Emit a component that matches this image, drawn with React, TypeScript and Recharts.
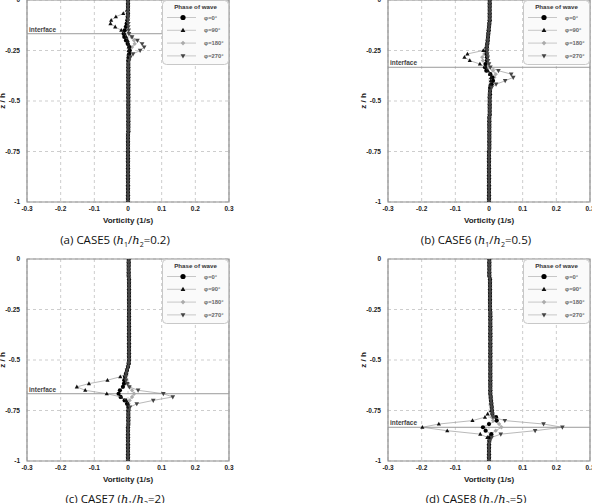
import React from "react";
import {
  ScatterChart,
  Scatter,
  XAxis,
  YAxis,
  CartesianGrid,
  ReferenceLine,
  ReferenceArea,
  Legend,
} from "recharts";

const FONT = "'Liberation Sans', Arial, sans-serif";

// z / h levels shared by every profile (0 = surface, -1 = bottom)
const LEVELS = [
  0, -0.017, -0.033, -0.05, -0.067, -0.083, -0.1, -0.117, -0.133, -0.15,
  -0.167, -0.183, -0.2, -0.217, -0.233, -0.25, -0.267, -0.283, -0.3, -0.317,
  -0.333, -0.35, -0.367, -0.383, -0.4, -0.417, -0.433, -0.45, -0.467, -0.483,
  -0.5, -0.517, -0.533, -0.55, -0.567, -0.583, -0.6, -0.617, -0.633, -0.65,
  -0.667, -0.683, -0.7, -0.717, -0.733, -0.75, -0.767, -0.783, -0.8, -0.817,
  -0.833, -0.85, -0.867, -0.883, -0.9, -0.917, -0.933, -0.95, -0.967, -0.983,
  -1,
];

const X_TICKS = [-0.3, -0.2, -0.1, 0, 0.1, 0.2, 0.3];
const Y_TICKS = [0, -0.25, -0.5, -0.75, -1];
const PHASES = ["φ=0°", "φ=90°", "φ=180°", "φ=270°"];

const CASE_TAGS = ["(a)", "(b)", "(c)", "(d)"];
const CASE_NAMES = ["CASE5", "CASE6", "CASE7", "CASE8"];
const RATIOS = ["0.2", "0.5", "2", "5"];
const INTERFACES = [-0.167, -0.333, -0.667, -0.833];

// vorticity (1/s), one value per level
const CASE5_P0 = [
  0, 0, 0, 0, 0, -0.001, -0.002, -0.004, -0.006, -0.01,
  -0.013, -0.011, -0.006, -0.001, 0.004, 0.005, 0.004, 0.002, 0.001, 0.001,
  0.001, 0.001, 0.001, 0.001, 0.001, 0.001, 0.001, 0.001, 0.001, 0.001,
  0.001, 0.001, 0.001, 0.001, 0.001, 0.001, 0.001, 0.001, 0.001, 0.001,
  0, 0, 0, 0, 0, 0, 0, 0, 0, 0,
  0, 0, 0, 0, 0, 0, 0, 0, 0, 0,
  0,
];
const CASE5_P90 = [
  0, 0, 0, -0.003, -0.014, -0.036, -0.05, -0.052, -0.038, -0.02,
  -0.01, -0.005, -0.001, 0.001, 0.002, 0.002, 0.001, 0.001, 0.001, 0.001,
  0.001, 0.001, 0.001, 0.001, 0.001, 0.001, 0.001, 0.001, 0.001, 0.001,
  0.001, 0.001, 0.001, 0.001, 0.001, 0.001, 0.001, 0.001, 0.001, 0.001,
  0, 0, 0, 0, 0, 0, 0, 0, 0, 0,
  0, 0, 0, 0, 0, 0, 0, 0, 0, 0,
  0,
];
const CASE5_P180 = [
  0, 0, 0, 0, 0, 0, -0.001, -0.004, -0.008, -0.006,
  0.003, 0.01, 0.018, 0.02, 0.012, 0.006, 0.003, 0.002, 0.001, 0.001,
  0.001, 0.001, 0.001, 0.001, 0.001, 0.001, 0.001, 0.001, 0.001, 0.001,
  0.001, 0.001, 0.001, 0.001, 0.001, 0.001, 0.001, 0.001, 0.001, 0.001,
  0, 0, 0, 0, 0, 0, 0, 0, 0, 0,
  0, 0, 0, 0, 0, 0, 0, 0, 0, 0,
  0,
];
const CASE5_P270 = [
  0, 0, 0, 0, 0, 0, 0, 0.001, 0.001, 0.002,
  0.003, 0.012, 0.028, 0.042, 0.048, 0.036, 0.015, 0.007, 0.003, 0.001,
  0.001, 0.001, 0.001, 0.001, 0.001, 0.001, 0.001, 0.001, 0.001, 0.001,
  0.001, 0.001, 0.001, 0.001, 0.001, 0.001, 0.001, 0.001, 0.001, 0.001,
  0, 0, 0, 0, 0, 0, 0, 0, 0, 0,
  0, 0, 0, 0, 0, 0, 0, 0, 0, 0,
  0,
];

const CASE6_P0 = [
  0.002, 0.002, 0.002, 0.002, 0.002, 0.002, 0.002, 0.001, 0, -0.001,
  -0.002, -0.003, -0.004, -0.005, -0.006, -0.007, -0.007, -0.006, -0.006, -0.01,
  -0.012, -0.008, 0.004, 0.01, 0.012, 0.008, 0.004, 0.003, 0.003, 0.002,
  0.002, 0.002, 0.002, 0.002, 0.002, 0.001, 0.001, 0.001, 0.001, 0.001,
  0.001, 0.001, 0.001, 0.001, 0.001, 0, 0, 0, 0, 0,
  0, 0, 0, 0, 0, 0, 0, 0, 0, 0,
  0,
];
const CASE6_P90 = [
  0.002, 0.002, 0.002, 0.002, 0.002, 0.002, 0.002, 0.001, 0, -0.001,
  -0.002, -0.003, -0.004, -0.006, -0.009, -0.017, -0.064, -0.073, -0.057, -0.027,
  -0.01, -0.003, 0.003, 0.006, 0.005, 0.004, 0.003, 0.003, 0.002, 0.002,
  0.002, 0.002, 0.002, 0.002, 0.002, 0.001, 0.001, 0.001, 0.001, 0.001,
  0.001, 0.001, 0.001, 0.001, 0.001, 0, 0, 0, 0, 0,
  0, 0, 0, 0, 0, 0, 0, 0, 0, 0,
  0,
];
const CASE6_P180 = [
  0.002, 0.002, 0.002, 0.002, 0.002, 0.002, 0.002, 0.001, 0, -0.001,
  -0.002, -0.003, -0.004, -0.005, -0.007, -0.01, -0.014, -0.02, -0.018, -0.012,
  -0.004, 0.012, 0.02, 0.016, 0.008, 0.004, 0.003, 0.003, 0.002, 0.002,
  0.002, 0.002, 0.002, 0.002, 0.002, 0.001, 0.001, 0.001, 0.001, 0.001,
  0.001, 0.001, 0.001, 0.001, 0.001, 0, 0, 0, 0, 0,
  0, 0, 0, 0, 0, 0, 0, 0, 0, 0,
  0,
];
const CASE6_P270 = [
  0.002, 0.002, 0.002, 0.002, 0.002, 0.002, 0.002, 0.001, 0, -0.001,
  -0.002, -0.003, -0.004, -0.005, -0.006, -0.006, -0.005, -0.004, -0.003, 0,
  0.004, 0.028, 0.066, 0.072, 0.048, 0.021, 0.008, 0.003, 0.002, 0.002,
  0.002, 0.002, 0.002, 0.002, 0.002, 0.001, 0.001, 0.001, 0.001, 0.001,
  0.001, 0.001, 0.001, 0.001, 0.001, 0, 0, 0, 0, 0,
  0, 0, 0, 0, 0, 0, 0, 0, 0, 0,
  0,
];

const CASE7_P0 = [
  0.002, 0.002, 0.002, 0.002, 0.002, 0.002, 0.003, 0.003, 0.003, 0.003,
  0.003, 0.003, 0.003, 0.003, 0.003, 0.003, 0.003, 0.003, 0.003, 0.003,
  0.003, 0.003, 0.003, 0.003, 0.003, 0.003, 0.003, 0.003, 0.003, 0.003,
  0.003, 0.002, 0, -0.003, -0.006, -0.009, -0.011, -0.012, -0.015, -0.024,
  -0.028, -0.022, -0.01, -0.003, 0.001, 0.001, 0.001, 0.001, 0.001, 0.001,
  0, 0, 0, 0, 0, 0, 0, 0, 0, 0,
  0,
];
const CASE7_P90 = [
  0.002, 0.002, 0.002, 0.002, 0.002, 0.002, 0.003, 0.003, 0.003, 0.003,
  0.003, 0.003, 0.003, 0.003, 0.003, 0.003, 0.003, 0.003, 0.003, 0.003,
  0.003, 0.003, 0.003, 0.003, 0.003, 0.003, 0.003, 0.003, 0.003, 0.003,
  0.003, 0.002, 0, -0.003, -0.006, -0.023, -0.061, -0.116, -0.152, -0.127,
  -0.063, -0.02, -0.005, 0, 0.001, 0.001, 0.001, 0.001, 0.001, 0.001,
  0, 0, 0, 0, 0, 0, 0, 0, 0, 0,
  0,
];
const CASE7_P180 = [
  0.002, 0.002, 0.002, 0.002, 0.002, 0.002, 0.003, 0.003, 0.003, 0.003,
  0.003, 0.003, 0.003, 0.003, 0.003, 0.003, 0.003, 0.003, 0.003, 0.003,
  0.003, 0.003, 0.003, 0.003, 0.003, 0.003, 0.003, 0.003, 0.003, 0.003,
  0.003, 0.002, 0, -0.003, -0.005, -0.006, -0.005, 0, 0.005, 0.012,
  0.018, 0.012, 0.005, 0.002, 0.001, 0.001, 0.001, 0.001, 0.001, 0.001,
  0, 0, 0, 0, 0, 0, 0, 0, 0, 0,
  0,
];
const CASE7_P270 = [
  0.002, 0.002, 0.002, 0.002, 0.002, 0.002, 0.003, 0.003, 0.003, 0.003,
  0.003, 0.003, 0.003, 0.003, 0.003, 0.003, 0.003, 0.003, 0.003, 0.003,
  0.003, 0.003, 0.003, 0.003, 0.003, 0.003, 0.003, 0.003, 0.003, 0.003,
  0.003, 0.002, 0, -0.003, -0.005, -0.007, -0.006, -0.002, 0.004, 0.03,
  0.105, 0.133, 0.075, 0.026, 0.006, 0.002, 0.001, 0.001, 0.001, 0.001,
  0, 0, 0, 0, 0, 0, 0, 0, 0, 0,
  0,
];

const CASE8_P0 = [
  0.001, 0.001, 0.001, 0.001, 0.001, 0.001, 0.003, 0.003, 0.003, 0.003,
  0.003, 0.003, 0.003, 0.003, 0.003, 0.003, 0.004, 0.004, 0.004, 0.004,
  0.004, 0.004, 0.004, 0.004, 0.004, 0.004, 0.004, 0.004, 0.004, 0.004,
  0.004, 0.004, 0.004, 0.004, 0.004, 0.004, 0.004, 0.004, 0.004, 0.004,
  0.004, 0.005, 0.006, 0.007, 0.008, 0.009, 0.01, 0.021, 0.023, 0,
  -0.018, -0.01, 0.007, 0.003, 0.001, 0, 0, 0, 0, 0,
  0,
];
const CASE8_P90 = [
  0.001, 0.001, 0.001, 0.001, 0.001, 0.001, 0.003, 0.003, 0.003, 0.003,
  0.003, 0.003, 0.003, 0.003, 0.003, 0.003, 0.004, 0.004, 0.004, 0.004,
  0.004, 0.004, 0.004, 0.004, 0.004, 0.004, 0.004, 0.004, 0.004, 0.004,
  0.004, 0.004, 0.004, 0.004, 0.004, 0.004, 0.004, 0.004, 0.004, 0.004,
  0.004, 0.005, 0.006, 0.007, 0.008, 0.006, -0.004, -0.012, -0.049, -0.149,
  -0.198, -0.124, -0.026, -0.005, 0.001, 0, 0, 0, 0, 0,
  0,
];
const CASE8_P180 = [
  0.001, 0.001, 0.001, 0.001, 0.001, 0.001, 0.003, 0.003, 0.003, 0.003,
  0.003, 0.003, 0.003, 0.003, 0.003, 0.003, 0.004, 0.004, 0.004, 0.004,
  0.004, 0.004, 0.004, 0.004, 0.004, 0.004, 0.004, 0.004, 0.004, 0.004,
  0.004, 0.004, 0.004, 0.004, 0.004, 0.004, 0.004, 0.004, 0.004, 0.004,
  0.004, 0.005, 0.006, 0.007, 0.008, 0.009, 0.01, 0.008, 0.012, 0.03,
  0.037, 0.02, 0.006, 0.002, 0.001, 0, 0, 0, 0, 0,
  0,
];
const CASE8_P270 = [
  0.001, 0.001, 0.001, 0.001, 0.001, 0.001, 0.003, 0.003, 0.003, 0.003,
  0.003, 0.003, 0.003, 0.003, 0.003, 0.003, 0.004, 0.004, 0.004, 0.004,
  0.004, 0.004, 0.004, 0.004, 0.004, 0.004, 0.004, 0.004, 0.004, 0.004,
  0.004, 0.004, 0.004, 0.004, 0.004, 0.004, 0.004, 0.004, 0.004, 0.004,
  0.004, 0.005, 0.006, 0.007, 0.008, 0.009, 0.01, 0.012, 0.047, 0.162,
  0.218, 0.137, 0.035, 0.008, 0.002, 0, 0, 0, 0, 0,
  0,
];

const CASE_SERIES = [
  [CASE5_P0, CASE5_P90, CASE5_P180, CASE5_P270],
  [CASE6_P0, CASE6_P90, CASE6_P180, CASE6_P270],
  [CASE7_P0, CASE7_P90, CASE7_P180, CASE7_P270],
  [CASE8_P0, CASE8_P90, CASE8_P180, CASE8_P270],
];

// where each plot area sits on the page
const PLOT_POS = [
  { left: 27, top: 0 },
  { left: 388, top: 0 },
  { left: 27, top: 259 },
  { left: 388, top: 259 },
];

type Kind = "circle" | "up" | "diamond" | "down";
const MARKS: { kind: Kind; fill: string; r: number; lr: number }[] = [
  { kind: "circle", fill: "#000", r: 2.1, lr: 2.6 },
  { kind: "up", fill: "#111", r: 1.9, lr: 2.2 },
  { kind: "diamond", fill: "#ababab", r: 1.8, lr: 1.9 },
  { kind: "down", fill: "#454545", r: 2.1, lr: 2.2 },
];
// gray phase goes underneath so the stacked column reads dark
const DRAW_ORDER = [2, 0, 1, 3];

function Mark({ cx, cy, kind, fill, r }: { cx: number; cy: number; kind: Kind; fill: string; r: number }) {
  if (cx == null || cy == null) return null;
  if (kind === "circle") return <circle cx={cx} cy={cy} r={r} fill={fill} />;
  let d = "";
  if (kind === "up") d = `M${cx},${cy - r * 1.2}L${cx + r * 1.1},${cy + r * 0.8}L${cx - r * 1.1},${cy + r * 0.8}Z`;
  if (kind === "down") d = `M${cx},${cy + r * 1.2}L${cx + r * 1.1},${cy - r * 0.8}L${cx - r * 1.1},${cy - r * 0.8}Z`;
  if (kind === "diamond") d = `M${cx},${cy - r * 1.2}L${cx + r * 1.2},${cy}L${cx},${cy + r * 1.2}L${cx - r * 1.2},${cy}Z`;
  return <path d={d} fill={fill} />;
}

function PhaseLegend() {
  return (
    <svg width={67} height={65} style={{ display: "block" }}>
      <rect x={0.5} y={0.5} width={66} height={64} rx={4} fill="#fafafa" stroke="#c8c8c8" />
      <text x={33.5} y={8.8} textAnchor="middle" fontSize={6.2} fontWeight={700} fill="#333" fontFamily={FONT}>
        Phase of wave
      </text>
      {PHASES.map((p, i) => {
        const y = 17.5 + i * 12.8;
        return (
          <g key={p}>
            <line x1={5} x2={34} y1={y} y2={y} stroke="#a5a5a5" strokeWidth={0.6} />
            <Mark cx={21} cy={y} kind={MARKS[i].kind} fill={MARKS[i].fill} r={MARKS[i].lr} />
            <text x={42} y={y + 2} fontSize={5.8} fontWeight={700} fill="#666" fontFamily={FONT}>
              {p}
            </text>
          </g>
        );
      })}
    </svg>
  );
}

const tickStyle = { fontSize: 6.5, fontWeight: 700, fill: "#222", fontFamily: FONT };

function Panel({ idx }: { idx: number }) {
  const pos = PLOT_POS[idx];
  const series = CASE_SERIES[idx];
  return (
    <>
      <div style={{ position: "absolute", left: pos.left - 60, top: pos.top - 20 }}>
        <ScatterChart width={282} height={262} margin={{ top: 20, right: 20, bottom: 0, left: 20 }}>
          <CartesianGrid strokeDasharray="3 3" stroke="#cdcdcd" />
          <XAxis
            type="number"
            dataKey="w"
            domain={[-0.3, 0.3]}
            ticks={X_TICKS}
            interval={0}
            allowDataOverflow
            axisLine={false}
            tickLine={false}
            tickSize={3}
            tickMargin={1}
            height={40}
            tick={tickStyle}
            tickFormatter={(v: number) => String(v)}
            label={{ value: "Vorticity (1/s)", position: "insideTop", offset: 15, fontSize: 8, fontWeight: 700, fill: "#222", fontFamily: FONT }}
          />
          <YAxis
            type="number"
            dataKey="z"
            domain={[-1, 0]}
            ticks={Y_TICKS}
            interval={0}
            allowDataOverflow
            axisLine={false}
            tickLine={false}
            tickSize={5}
            tickMargin={2}
            width={40}
            tick={tickStyle}
            tickFormatter={(v: number) => String(v)}
            label={{ value: "z / h", angle: -90, position: "center", dx: -5, fontSize: 8, fontWeight: 700, fill: "#222", fontFamily: FONT }}
          />
          <ReferenceArea x1={-0.3} x2={0.3} y1={-1} y2={0} fill="none" stroke="#8e8e8e" strokeWidth={1.2} />
          <ReferenceLine
            y={INTERFACES[idx]}
            stroke="#9a9a9a"
            strokeWidth={1}
            label={{ value: "interface", position: "insideBottomLeft", offset: 2, fontSize: 6.5, fontWeight: 700, fill: "#444", fontFamily: FONT }}
          />
          {DRAW_ORDER.map((i) => (
            <Scatter
              key={PHASES[i]}
              name={PHASES[i]}
              data={LEVELS.map((z, k) => ({ z, w: series[i][k] }))}
              line={{ stroke: "#8a8a8a", strokeWidth: 0.6 }}
              lineType="joint"
              isAnimationActive={false}
              shape={(p: any) => <Mark cx={p.cx} cy={p.cy} kind={MARKS[i].kind} fill={MARKS[i].fill} r={MARKS[i].r} />}
            />
          ))}
          <Legend
            layout="vertical"
            align="center"
            verticalAlign="middle"
            wrapperStyle={{ top: 20, left: 195, width: 67, height: 65 }}
            content={() => <PhaseLegend />}
          />
        </ScatterChart>
      </div>
      <div
        style={{
          position: "absolute",
          left: pos.left + 88 - 100,
          top: pos.top + 231,
          width: 200,
          textAlign: "center",
          fontFamily: "'Open Sans', sans-serif",
          fontSize: 11.5,
          lineHeight: "18px",
          color: "#111",
          whiteSpace: "nowrap",
        }}
      >
        {CASE_TAGS[idx]} {CASE_NAMES[idx]} (
        <i style={{ fontFamily: "'DejaVu Serif', serif" }}>h</i>
        <span style={{ fontSize: 7, position: "relative", top: 3 }}>1</span>/
        <i style={{ fontFamily: "'DejaVu Serif', serif" }}>h</i>
        <span style={{ fontSize: 7, position: "relative", top: 3 }}>2</span>={RATIOS[idx]})
      </div>
    </>
  );
}

export default function App() {
  return (
    <div style={{ position: "relative", width: 592, height: 503, overflow: "hidden", background: "#fff" }}>
      <style>{"body{margin:0}"}</style>
      {[0, 1, 2, 3].map((i) => (
        <Panel key={i} idx={i} />
      ))}
    </div>
  );
}
